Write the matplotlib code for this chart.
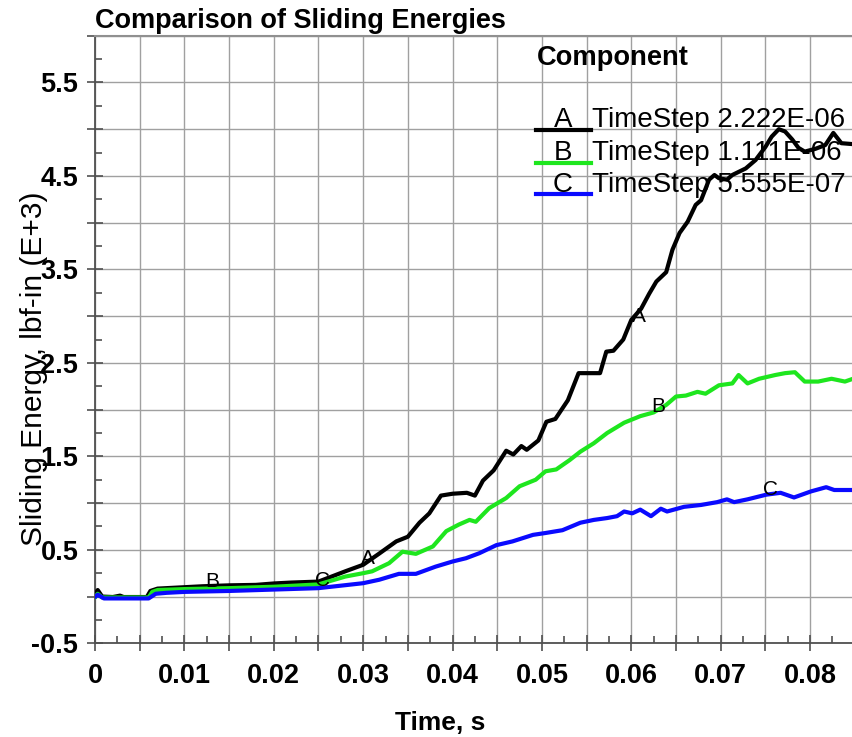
import matplotlib
matplotlib.use("Agg")
import matplotlib.pyplot as plt
from matplotlib.ticker import MultipleLocator, FuncFormatter
from matplotlib.lines import Line2D

plt.rcParams['font.family'] = ['Liberation Sans', 'DejaVu Sans']

# ---- data ----
t_A = [0, 0.0003, 0.0008, 0.002, 0.0028, 0.0032, 0.0058, 0.0062, 0.007, 0.008, 0.010, 0.012,
       0.015, 0.018, 0.020, 0.022, 0.025, 0.028, 0.030, 0.0318, 0.0337, 0.035, 0.0363, 0.0374,
       0.0387, 0.0400, 0.0416, 0.0425, 0.0434, 0.0446, 0.0460, 0.0468, 0.0477, 0.0483, 0.0496,
       0.0505, 0.0515, 0.0529, 0.0541, 0.0550, 0.0565, 0.0572, 0.0580, 0.0591, 0.0600, 0.0611,
       0.0620, 0.0628, 0.0639, 0.0646, 0.0654, 0.0663, 0.0672, 0.0678, 0.0687, 0.0693, 0.0698,
       0.0707, 0.0713, 0.0728, 0.0739, 0.0750, 0.0757, 0.0765, 0.0772, 0.0780, 0.0787, 0.0794,
       0.0806, 0.0817, 0.0826, 0.0835, 0.0848]
v_A = [0.02, 0.07, 0.0, -0.005, 0.01, -0.005, -0.005, 0.06, 0.085, 0.09, 0.10, 0.11,
       0.12, 0.125, 0.14, 0.15, 0.16, 0.27, 0.34, 0.46, 0.59, 0.64, 0.79, 0.89,
       1.08, 1.10, 1.11, 1.08, 1.24, 1.35, 1.56, 1.52, 1.61, 1.57, 1.67,
       1.87, 1.90, 2.10, 2.39, 2.39, 2.39, 2.62, 2.63, 2.75, 2.96, 3.08,
       3.24, 3.37, 3.47, 3.71, 3.89, 4.01, 4.19, 4.24, 4.46, 4.51, 4.475,
       4.46, 4.51, 4.58, 4.67, 4.81, 4.92, 5.00, 4.975, 4.89, 4.80, 4.76,
       4.79, 4.83, 4.96, 4.85, 4.84]

t_B = [0, 0.0003, 0.0008, 0.006, 0.0064, 0.007, 0.010, 0.015, 0.020, 0.025, 0.028, 0.030,
       0.031, 0.0329, 0.0344, 0.0359, 0.0378, 0.0393, 0.0407, 0.0419, 0.0426, 0.0441, 0.0460,
       0.0475, 0.0493, 0.0504, 0.0516, 0.0531, 0.0543, 0.0558, 0.0573, 0.0592, 0.0610, 0.0625,
       0.0639, 0.0650, 0.0661, 0.0674, 0.0683, 0.0698, 0.0713, 0.0720, 0.0730, 0.0743, 0.0761,
       0.0772, 0.0783, 0.0794, 0.0809, 0.0824, 0.0839, 0.0848]
v_B = [-0.01, 0.03, -0.01, -0.01, 0.05, 0.07, 0.08, 0.09, 0.105, 0.13, 0.214, 0.25,
       0.27, 0.357, 0.48, 0.457, 0.536, 0.70, 0.77, 0.82, 0.80, 0.946, 1.054,
       1.18, 1.25, 1.34, 1.36, 1.46, 1.55, 1.64, 1.75, 1.86, 1.93, 1.97,
       2.05, 2.14, 2.15, 2.19, 2.17, 2.26, 2.28, 2.37, 2.28, 2.33, 2.37,
       2.39, 2.40, 2.30, 2.30, 2.33, 2.30, 2.33]

t_C = [0, 0.0003, 0.001, 0.006, 0.0068, 0.008, 0.010, 0.015, 0.020, 0.025, 0.030, 0.0318,
       0.034, 0.0359, 0.0381, 0.040, 0.0415, 0.043, 0.0449, 0.0467, 0.049, 0.0504, 0.0523,
       0.0543, 0.0558, 0.0573, 0.0584, 0.0592, 0.0601, 0.061, 0.0622, 0.0633, 0.064, 0.0659,
       0.0678, 0.0696, 0.0707, 0.0715, 0.073, 0.0751, 0.0767, 0.0782, 0.0801, 0.0818, 0.0827,
       0.0848]
v_C = [-0.005, 0.02, -0.02, -0.02, 0.03, 0.04, 0.05, 0.06, 0.075, 0.09, 0.143, 0.18,
       0.243, 0.243, 0.32, 0.375, 0.41, 0.464, 0.55, 0.59, 0.66, 0.68, 0.71,
       0.79, 0.82, 0.84, 0.86, 0.91, 0.89, 0.93, 0.86, 0.94, 0.91, 0.96,
       0.98, 1.01, 1.04, 1.01, 1.04, 1.09, 1.11, 1.06, 1.125, 1.17, 1.14,
       1.14]

series_letters = ["A", "B", "C"]
series_names = ["TimeStep 2.222E-06", "TimeStep 1.111E-06", "TimeStep 5.555E-07"]
series_colors = ["#000000", "#1ee61e", "#0a0aff"]

# curve letter markers (x, y)
mark_A = [(0.0305, 0.41), (0.0608, 3.0)]
mark_B = [(0.0131, 0.16), (0.0630, 2.03)]
mark_C = [(0.0255, 0.17), (0.0756, 1.15)]

x_tick_labels = ["0", "0.01", "0.02", "0.03", "0.04", "0.05", "0.06", "0.07", "0.08"]
y_tick_labels = ["-0.5", "0.5", "1.5", "2.5", "3.5", "4.5", "5.5"]

# ---- figure ----
W, H = 853, 737
fig = plt.figure(figsize=(W / 100, H / 100), dpi=100)
ax = fig.add_axes([95 / W, 1 - 643.3 / H, (W - 95) / W, (643.3 - 35.7) / H])

curves = [(t_A, v_A), (t_B, v_B), (t_C, v_C)]
for (t, v), c in zip(curves, series_colors):
    ax.plot(t, v, color=c, lw=3.0, solid_joinstyle='round', solid_capstyle='round', zorder=3)

for letter, marks in zip(series_letters, [mark_A, mark_B, mark_C]):
    for (mx, my) in marks:
        ax.text(mx, my, letter, fontsize=15, ha='center', va='center', color='black', zorder=4)

ax.set_xlim(0, 0.0848)
ax.set_ylim(-0.5, 6.0)

ax.xaxis.set_major_locator(MultipleLocator(0.005))
ax.xaxis.set_minor_locator(MultipleLocator(0.0025))
ax.yaxis.set_major_locator(MultipleLocator(0.5))
ax.yaxis.set_minor_locator(MultipleLocator(0.25))


def xfmt(val, pos):
    k = round(val / 0.005)
    if k % 2 == 0 and 0 <= k // 2 < len(x_tick_labels):
        return x_tick_labels[k // 2]
    return ""


def yfmt(val, pos):
    k = round((val + 0.5) / 0.5)
    if k % 2 == 0 and 0 <= k // 2 < len(y_tick_labels):
        return y_tick_labels[k // 2]
    return ""


ax.xaxis.set_major_formatter(FuncFormatter(xfmt))
ax.yaxis.set_major_formatter(FuncFormatter(yfmt))

tick_col = '#505050'
ax.tick_params(which='major', direction='inout', length=11, width=1.2, color=tick_col,
               labelsize=19.5)
ax.tick_params(axis='x', which='major', pad=8.5)
ax.tick_params(axis='y', which='major', pad=6.5)
ax.tick_params(which='minor', direction='in', length=5, width=1.2, color=tick_col)
for lab in ax.get_xticklabels() + ax.get_yticklabels():
    lab.set_fontweight('bold')

ax.grid(True, which='major', color='#a0a0a0', lw=1.0, zorder=0)
ax.set_axisbelow(True)

ax.spines['right'].set_visible(False)
ax.spines['left'].set_color(tick_col)
ax.spines['bottom'].set_color(tick_col)
ax.spines['left'].set_linewidth(1.3)
ax.spines['bottom'].set_linewidth(1.3)
ax.spines['top'].set_color('#909090')
ax.spines['top'].set_linewidth(1.5)

# titles / labels
fig.text(95 / W, 1 - 28 / H, "Comparison of Sliding Energies", fontsize=19.5, fontweight='bold',
         ha='left', va='baseline')
fig.text(440 / W, 1 - 730 / H, "Time, s", fontsize=19, fontweight='bold',
         ha='center', va='baseline')
fig.text(34 / W, 1 - 369 / H, "Sliding Energy, lbf-in (E+3)", fontsize=21.5, rotation=90,
         ha='center', va='center')

# legend (drawn manually)
fig.text(537 / W, 1 - 58 / H, "Component", fontsize=19.6, fontweight='bold', ha='left', va='center')
line_y = [130, 163, 194]
text_y = [120, 153, 185]
for letter, name, col, ly, ty in zip(series_letters, series_names, series_colors, line_y, text_y):
    fig.add_artist(Line2D([536 / W, 591 / W], [1 - ly / H, 1 - ly / H], color=col, lw=3.0,
                          transform=fig.transFigure, zorder=5))
    fig.text(563 / W, 1 - ty / H, letter, fontsize=20, ha='center', va='center', zorder=6)
    fig.text(592 / W, 1 - ty / H, name, fontsize=20, ha='left', va='center', zorder=6)

fig.savefig("out.png", dpi=100)
